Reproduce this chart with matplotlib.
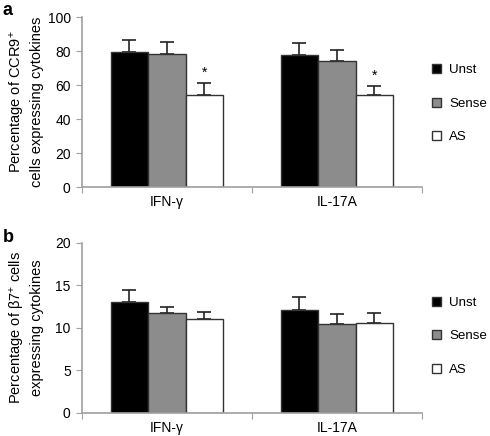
import matplotlib
matplotlib.use("Agg")
import matplotlib.pyplot as plt
import numpy as np

plt.rcParams["font.family"] = ["Liberation Sans", "DejaVu Sans"]
plt.rcParams["mathtext.fontset"] = "custom"
plt.rcParams["mathtext.rm"] = "Liberation Sans"
plt.rcParams["mathtext.it"] = "Liberation Sans:italic"

categories = ["IFN-γ", "IL-17A"]
series = ["Unst", "Sense", "AS"]
colors = ["#000000", "#8c8c8c", "#ffffff"]

# panel a: CCR9+ cells
a_vals = [[79.2, 77.6], [78.2, 74.2], [54.1, 54.1]]
a_err = [[7.0, 7.1], [7.1, 6.5], [7.1, 5.5]]
a_star = [False, False, True]

# panel b: beta7+ cells
b_vals = [[13.1, 12.1], [11.7, 10.4], [11.0, 10.6]]
b_err = [[1.3, 1.5], [0.8, 1.2], [0.9, 1.1]]

axis_grey = "#a0a0a0"


def draw_panel(ax, vals, err, ylim, yticks, ylabel, legend_y, stars=None):
    x = np.arange(len(categories)) + 0.5
    width = 0.22
    for i, name in enumerate(series):
        pos = x + (i - 1) * width
        ax.bar(pos, vals[i], width, color=colors[i], edgecolor="#333333",
               linewidth=1.0, label=name, zorder=2)
        ax.errorbar(pos, vals[i], yerr=[np.zeros(len(err[i])), err[i]],
                    fmt="none", ecolor="#222222", elinewidth=1.2,
                    capsize=5, capthick=1.2, zorder=1)
        if stars is not None and stars[i]:
            for p, v, e in zip(pos, vals[i], err[i]):
                ax.text(p, v + e + 2.0, "*", ha="center", va="bottom", fontsize=10)
    ax.set_xlim(0, len(categories))
    ax.set_ylim(*ylim)
    ax.set_yticks(yticks)
    ax.set_xticks([0, 1, 2])
    ax.set_xticklabels([])
    ax.set_xticks(x, minor=True)
    ax.set_xticklabels(categories, minor=True, fontsize=10)
    ax.tick_params(axis="x", which="minor", length=0, pad=6)
    ax.tick_params(axis="x", which="major", length=4, color=axis_grey, direction="out")
    ax.tick_params(axis="y", length=4, color=axis_grey, labelsize=10, pad=4)
    for s in ["top", "right"]:
        ax.spines[s].set_visible(False)
    for s in ["left", "bottom"]:
        ax.spines[s].set_color(axis_grey)
        ax.spines[s].set_linewidth(1.2)
    ax.set_ylabel(ylabel, fontsize=10.5, linespacing=1.3)
    ax.yaxis.set_label_coords(-0.11, 0.5)
    ax.legend(loc="center left", bbox_to_anchor=(1.015, legend_y), frameon=False,
              fontsize=9.6, handlelength=0.65, handleheight=0.65, handletextpad=0.6,
              labelspacing=1.6, borderaxespad=0)


fig = plt.figure(figsize=(4.9, 4.36), dpi=100)
ax1 = fig.add_axes([0.167, 0.571, 0.694, 0.39])
ax2 = fig.add_axes([0.167, 0.053, 0.694, 0.39])

draw_panel(ax1, a_vals, a_err, (0, 100), [0, 20, 40, 60, 80, 100],
           "Percentage of CCR9$^{+}$\ncells expressing cytokines", 0.49, stars=a_star)
draw_panel(ax2, b_vals, b_err, (0, 20), [0, 5, 10, 15, 20],
           "Percentage of β7$^{+}$ cells\nexpressing cytokines", 0.45)

fig.text(0.006, 0.977, "a", fontsize=13, fontweight="bold", va="center")
fig.text(0.006, 0.455, "b", fontsize=13, fontweight="bold", va="center")

fig.savefig("out.png", dpi=100)
